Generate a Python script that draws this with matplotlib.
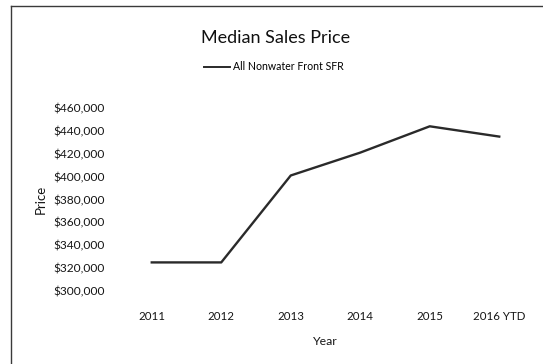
import matplotlib
matplotlib.use("Agg")
import matplotlib.pyplot as plt
from matplotlib.lines import Line2D
from matplotlib.ticker import FuncFormatter

years = ["2011", "2012", "2013", "2014", "2015", "2016 YTD"]
median_price = [325000, 325000, 401000, 421000, 444000, 435000]
series_name = "All Nonwater Front SFR"
y_ticks = [300000, 320000, 340000, 360000, 380000, 400000, 420000, 440000, 460000]

W, H = 543, 364
plt.rcParams["font.family"] = ["Lato", "DejaVu Sans"]

fig = plt.figure(figsize=(W / 100, H / 100), dpi=100)
fig.patch.set_facecolor("white")

ax = fig.add_axes([117 / W, (H - 291) / H, (534 - 117) / W, (291 - 108) / H])
x = list(range(len(years)))
ax.plot(x, median_price, color="#2a2a2a", lw=1.7, label=series_name,
        solid_joinstyle="round")

ax.set_xlim(-0.5, len(years) - 0.5)
ax.set_ylim(y_ticks[0], y_ticks[-1])
ax.set_yticks(y_ticks)
ax.yaxis.set_major_formatter(FuncFormatter(lambda v, _: f"${v:,.0f}"))
ax.set_xticks(x)
ax.set_xticklabels(years)
for s in ax.spines.values():
    s.set_visible(False)
ax.tick_params(axis="y", length=0, pad=8.5, labelsize=8.6, labelcolor="#151515")
ax.tick_params(axis="x", length=0, pad=14.5, labelsize=8.3, labelcolor="#151515")

ax.set_ylabel("Price", fontsize=9.5, color="#151515", labelpad=5)
ax.set_xlabel("Year", fontsize=8.8, color="#151515", labelpad=10)

fig.text(276 / W, 1 - 38 / H, "Median Sales Price", ha="center", va="center",
         fontsize=13, color="#111111")

leg = ax.legend(loc="center", bbox_to_anchor=(274 / W, 1 - 67 / H),
                bbox_transform=fig.transFigure, frameon=False, fontsize=7.6,
                handlelength=2.4, handletextpad=0.3)
for h in leg.get_lines():
    h.set_linewidth(1.4)

# outer chart frame (left and top edges)
fig.add_artist(Line2D([11 / W, 11 / W], [0, 1 - 6 / H], transform=fig.transFigure,
                      color="#3a3a3a", lw=1.0))
fig.add_artist(Line2D([11 / W, 1], [1 - 6 / H, 1 - 6 / H], transform=fig.transFigure,
                      color="#3a3a3a", lw=1.0))

fig.savefig("out.png", dpi=100)
